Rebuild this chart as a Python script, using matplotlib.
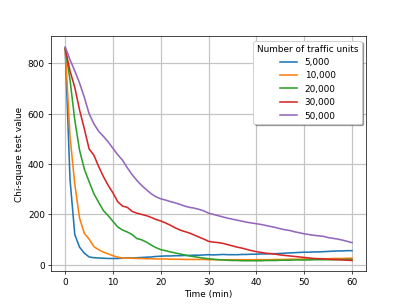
import numpy as np
import matplotlib
matplotlib.use("Agg")
import matplotlib.pyplot as plt

# Chi-square test value per minute, one list per traffic volume
time_min = list(range(61))

units_5000 = [860, 340, 120, 70, 46, 31, 28, 27, 26, 25,
              25, 25, 26, 27, 27, 28, 29, 30, 31, 33,
              34, 35, 35, 36, 36, 37, 37, 38, 38, 39,
              40, 39, 40, 41, 40, 40, 40, 41, 41, 42,
              42, 43, 43, 44, 44, 45, 46, 47, 48, 49,
              50, 50, 51, 51, 52, 53, 54, 55, 55, 56, 56]

units_10000 = [858, 510, 320, 185, 125, 102, 72, 60, 50, 43,
               36, 30, 27, 26, 26, 25, 25, 24, 24, 23,
               23, 23, 22, 22, 22, 21, 21, 21, 21, 21,
               20, 20, 20, 20, 20, 20, 20, 20, 20, 20,
               20, 20, 20, 20, 21, 21, 21, 22, 22, 22,
               23, 23, 23, 24, 24, 24, 25, 25, 25, 26, 26]

units_20000 = [860, 735, 575, 455, 380, 330, 282, 248, 215, 195,
               172, 150, 138, 130, 120, 104, 99, 90, 78, 68,
               60, 56, 51, 47, 43, 39, 35, 32, 29, 26,
               24, 22, 20, 19, 18, 17, 17, 16, 16, 16,
               16, 16, 17, 17, 17, 18, 18, 18, 19, 19,
               19, 19, 20, 20, 20, 20, 20, 21, 21, 21, 21]

units_30000 = [860, 770, 705, 615, 540, 460, 435, 390, 350, 315,
               285, 250, 233, 228, 212, 205, 200, 195, 188, 180,
               174, 166, 157, 147, 138, 132, 126, 118, 110, 102,
               93, 90, 88, 85, 80, 75, 70, 66, 61, 56,
               52, 49, 46, 44, 42, 39, 37, 35, 33, 31,
               29, 27, 25, 24, 23, 22, 21, 20, 19, 18, 17]

units_50000 = [865, 815, 770, 722, 665, 600, 560, 530, 510, 488,
               462, 437, 415, 385, 358, 335, 315, 298, 282, 270,
               262, 257, 251, 246, 240, 233, 228, 225, 220, 214,
               205, 200, 195, 190, 185, 181, 177, 173, 169, 166,
               163, 160, 156, 152, 148, 143, 139, 136, 131, 127,
               123, 120, 117, 115, 113, 108, 105, 102, 98, 93, 88]

series = [units_5000, units_10000, units_20000, units_30000, units_50000]
labels = ["5,000", "10,000", "20,000", "30,000", "50,000"]

fig, ax = plt.subplots(figsize=(6.4, 4.8), dpi=63.6)

for values, label in zip(series, labels):
    ax.plot(time_min, values, label=label, linewidth=1.8)

ax.set_xlabel("Time (min)")
ax.set_ylabel("Chi-square test value")
ax.grid(True, color="#c4c4c4", linewidth=1.4)
ax.legend(title="Number of traffic units", loc="upper right", shadow=True)

plt.savefig("out.png", dpi=63.6)
